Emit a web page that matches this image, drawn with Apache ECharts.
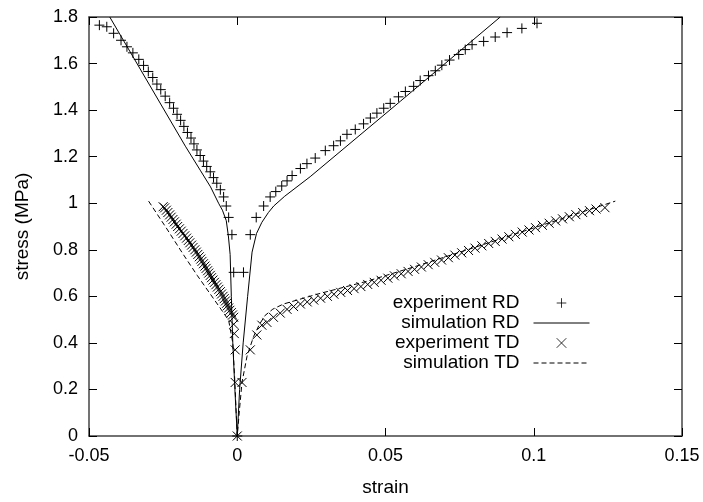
<!DOCTYPE html>
<html>
<head>
<meta charset="utf-8">
<script src="https://cdn.jsdelivr.net/npm/echarts@6/dist/echarts.min.js"></script>
<style>html,body{margin:0;padding:0;background:#fff}#c{width:703px;height:502px}</style>
</head>
<body>
<div id="c"></div>
<script>
// axis ticks
const xTicks = [-0.05, 0, 0.05, 0.1, 0.15];
const yTicks = [0, 0.2, 0.4, 0.6, 0.8, 1, 1.2, 1.4, 1.6, 1.8];
const xName = 'strain';
const yName = 'stress (MPa)';
const seriesNames = ['experiment RD', 'simulation RD', 'experiment TD', 'simulation TD'];

// [strain, stress]
const expRD = [
  [-0.0465,1.765],[-0.0440,1.758],[-0.0417,1.730],[-0.0392,1.700],[-0.0372,1.672],[-0.0352,1.646],
  [-0.0332,1.618],[-0.0316,1.592],[-0.0300,1.566],[-0.0285,1.540],[-0.0271,1.512],[-0.0258,1.488],
  [-0.0243,1.460],[-0.0228,1.432],[-0.0215,1.408],[-0.0203,1.382],[-0.0191,1.356],[-0.0180,1.330],
  [-0.0168,1.304],[-0.0156,1.280],[-0.0146,1.255],[-0.0136,1.229],[-0.0125,1.205],[-0.0114,1.181],
  [-0.0103,1.158],[-0.0091,1.135],[-0.0080,1.110],[-0.0069,1.086],[-0.0057,1.058],[-0.0046,1.027],
  [-0.0037,0.988],[-0.0029,0.939],[-0.0018,0.865],[-0.0012,0.703],[0,0],
  [0.0021,0.703],[0.0044,0.865],[0.0064,0.939],[0.0089,0.988],[0.0111,1.027],[0.0130,1.050],
  [0.0150,1.074],[0.0168,1.096],[0.0185,1.119],[0.0213,1.149],[0.0235,1.170],[0.0263,1.194],
  [0.0297,1.226],[0.0325,1.247],[0.0348,1.268],[0.0370,1.296],[0.0398,1.317],[0.0426,1.341],
  [0.0449,1.366],[0.0471,1.387],[0.0494,1.408],[0.0516,1.429],[0.0544,1.457],[0.0567,1.480],
  [0.0595,1.502],[0.0617,1.527],[0.0645,1.548],[0.0668,1.569],[0.0690,1.593],[0.0716,1.615],
  [0.0747,1.639],[0.0769,1.660],[0.0792,1.681],[0.0831,1.695],[0.0870,1.714],[0.0910,1.733],
  [0.0960,1.751],[0.1011,1.773]
];
const simRD = [
  [-0.0430,1.800],[-0.0175,1.245],[-0.0125,1.142],[-0.0090,1.070],[-0.0063,1.000],[-0.0050,0.970],
  [-0.0037,0.925],[-0.0030,0.860],[-0.0024,0.780],[-0.0020,0.600],[-0.0015,0.400],[-0.0008,0.200],
  [0,0],
  [0.0008,0.200],[0.0020,0.400],[0.0035,0.600],[0.0050,0.790],[0.0065,0.870],[0.0083,0.918],
  [0.0105,0.960],[0.0123,0.988],[0.0160,1.030],[0.0246,1.114],[0.0551,1.439],[0.0887,1.800]
];
const expTD = [
  [-0.0250,0.985],[-0.0245,0.980],[-0.0239,0.970],[-0.0234,0.960],[-0.0228,0.950],[-0.0223,0.940],
  [-0.0217,0.930],[-0.0212,0.920],[-0.0206,0.910],[-0.0201,0.900],[-0.0195,0.890],[-0.0189,0.880],
  [-0.0183,0.870],[-0.0177,0.860],[-0.0171,0.850],[-0.0165,0.840],[-0.0160,0.830],[-0.0154,0.820],
  [-0.0149,0.810],[-0.0143,0.800],[-0.0138,0.790],[-0.0133,0.780],[-0.0128,0.770],[-0.0123,0.760],
  [-0.0119,0.750],[-0.0114,0.740],[-0.0109,0.730],[-0.0105,0.720],[-0.0100,0.710],[-0.0096,0.700],
  [-0.0091,0.690],[-0.0087,0.680],[-0.0082,0.670],[-0.0077,0.660],[-0.0072,0.650],[-0.0067,0.640],
  [-0.0062,0.630],[-0.0057,0.620],[-0.0053,0.610],[-0.0048,0.600],[-0.0044,0.590],[-0.0040,0.580],
  [-0.0036,0.570],[-0.0033,0.560],[-0.0029,0.550],[-0.0025,0.540],[-0.0020,0.530],[-0.0016,0.520],
  [-0.0012,0.510],[-0.0012,0.480],[-0.0010,0.440],[-0.0007,0.370],[-0.0007,0.230],[0,0],
  [0.0016,0.230],[0.0044,0.370],[0.0066,0.434],[0.0083,0.476],
  [0.0100,0.488],[0.0122,0.510],[0.0145,0.528],[0.0168,0.544],[0.0190,0.556],[0.0213,0.567],
  [0.0236,0.576],[0.0258,0.584],[0.0281,0.592],[0.0304,0.600],[0.0326,0.609],[0.0349,0.617],
  [0.0372,0.625],[0.0394,0.633],[0.0417,0.642],[0.0440,0.651],[0.0462,0.660],[0.0485,0.669],
  [0.0508,0.678],[0.0530,0.688],[0.0553,0.697],[0.0576,0.707],[0.0598,0.716],[0.0621,0.726],
  [0.0644,0.736],[0.0666,0.746],[0.0689,0.756],[0.0712,0.766],[0.0734,0.777],[0.0757,0.787],
  [0.0780,0.797],[0.0802,0.807],[0.0825,0.817],[0.0848,0.827],[0.0870,0.836],[0.0893,0.846],
  [0.0916,0.856],[0.0938,0.866],[0.0961,0.876],[0.0984,0.885],[0.1006,0.895],[0.1029,0.905],
  [0.1052,0.914],[0.1074,0.924],[0.1097,0.933],[0.1120,0.942],[0.1142,0.951],[0.1165,0.960],
  [0.1188,0.968],[0.1210,0.975],[0.1240,0.981]
];
const simTD = [
  [-0.0299,1.009],[-0.0240,0.895],[-0.0181,0.778],[-0.0135,0.690],[-0.0091,0.610],[-0.0055,0.545],
  [-0.0029,0.497],[-0.0015,0.400],[-0.0008,0.230],[0,0],
  [0.0008,0.120],[0.0016,0.230],[0.0033,0.343],[0.0055,0.427],[0.0075,0.480],[0.0094,0.518],
  [0.0120,0.545],[0.0156,0.567],[0.0269,0.609],[0.0438,0.665],[0.0600,0.728],[0.0800,0.810],
  [0.1000,0.894],[0.1275,1.009]
];

const FONT = 'Liberation Sans, Arial, Helvetica, sans-serif';
const PLUS = 'path://M0,5L10,5M5,0L5,10';
const CROSS = 'path://M0,0L10,10M10,0L0,10';
const frame = {show: true, onZero: false, lineStyle: {color: '#444', width: 1.5}};
const ticks = {show: true, inside: true, length: 8, lineStyle: {color: '#000', width: 1}};

const chart = echarts.init(document.getElementById('c'), null, {renderer: 'canvas'});
chart.setOption({
  animation: false,
  backgroundColor: '#fff',
  textStyle: {fontFamily: FONT, color: '#000'},
  grid: {left: 89, right: 21, top: 17, bottom: 57},
  legend: {
    orient: 'vertical', align: 'right', right: 113, top: 293, padding: 0,
    itemWidth: 56, itemHeight: 12, itemGap: 0,
    itemStyle: {borderWidth: 0.8},
    textStyle: {fontFamily: FONT, fontSize: 19, color: '#000', lineHeight: 20, padding: [0, 9, 0, 0]},
    data: [
      {name: seriesNames[0], lineStyle: {width: 0}},
      {name: seriesNames[1], lineStyle: {width: 1}, itemStyle: {color: 'rgba(0,0,0,0)', borderWidth: 0}},
      {name: seriesNames[2], lineStyle: {width: 0}},
      {name: seriesNames[3], lineStyle: {width: 1}, itemStyle: {color: 'rgba(0,0,0,0)', borderWidth: 0}}
    ]
  },
  xAxis: [
    {type: 'value', position: 'bottom', min: xTicks[0], max: xTicks[xTicks.length-1], interval: 0.05,
     name: xName, nameLocation: 'middle', nameGap: 42,
     nameTextStyle: {fontFamily: FONT, fontSize: 19, color: '#000'},
     axisLine: frame, axisTick: ticks, splitLine: {show: false},
     axisLabel: {fontFamily: FONT, fontSize: 18, color: '#000', margin: 11}},
    {type: 'value', position: 'top', min: xTicks[0], max: xTicks[xTicks.length-1], interval: 0.05,
     axisLine: frame, axisTick: ticks, splitLine: {show: false}, axisLabel: {show: false}}
  ],
  yAxis: [
    {type: 'value', position: 'left', min: yTicks[0], max: yTicks[yTicks.length-1], interval: 0.2,
     name: yName, nameLocation: 'middle', nameGap: 57,
     nameTextStyle: {fontFamily: FONT, fontSize: 19, color: '#000'},
     axisLine: frame, axisTick: ticks, splitLine: {show: false},
     axisLabel: {fontFamily: FONT, fontSize: 18, color: '#000', margin: 11}},
    {type: 'value', position: 'right', min: yTicks[0], max: yTicks[yTicks.length-1], interval: 0.2,
     axisLine: frame, axisTick: ticks, splitLine: {show: false}, axisLabel: {show: false}}
  ],
  series: [
    {name: seriesNames[0], type: 'line', data: expRD, symbol: PLUS, symbolSize: 10, showSymbol: true,
     lineStyle: {width: 0}, itemStyle: {color: 'rgba(0,0,0,0)', borderColor: '#000', borderWidth: 1}, z: 3},
    {name: seriesNames[1], type: 'line', data: simRD, symbol: 'none',
     lineStyle: {color: '#000', width: 1}, itemStyle: {color: '#000'}, z: 2},
    {name: seriesNames[2], type: 'line', data: expTD, symbol: CROSS, symbolSize: 9, showSymbol: true,
     lineStyle: {width: 0}, itemStyle: {color: 'rgba(0,0,0,0)', borderColor: '#000', borderWidth: 1}, z: 3},
    {name: seriesNames[3], type: 'line', data: simTD, symbol: 'none',
     lineStyle: {color: '#000', width: 1, type: [5, 3]}, itemStyle: {color: '#000'}, z: 2}
  ]
});
</script>
</body>
</html>
